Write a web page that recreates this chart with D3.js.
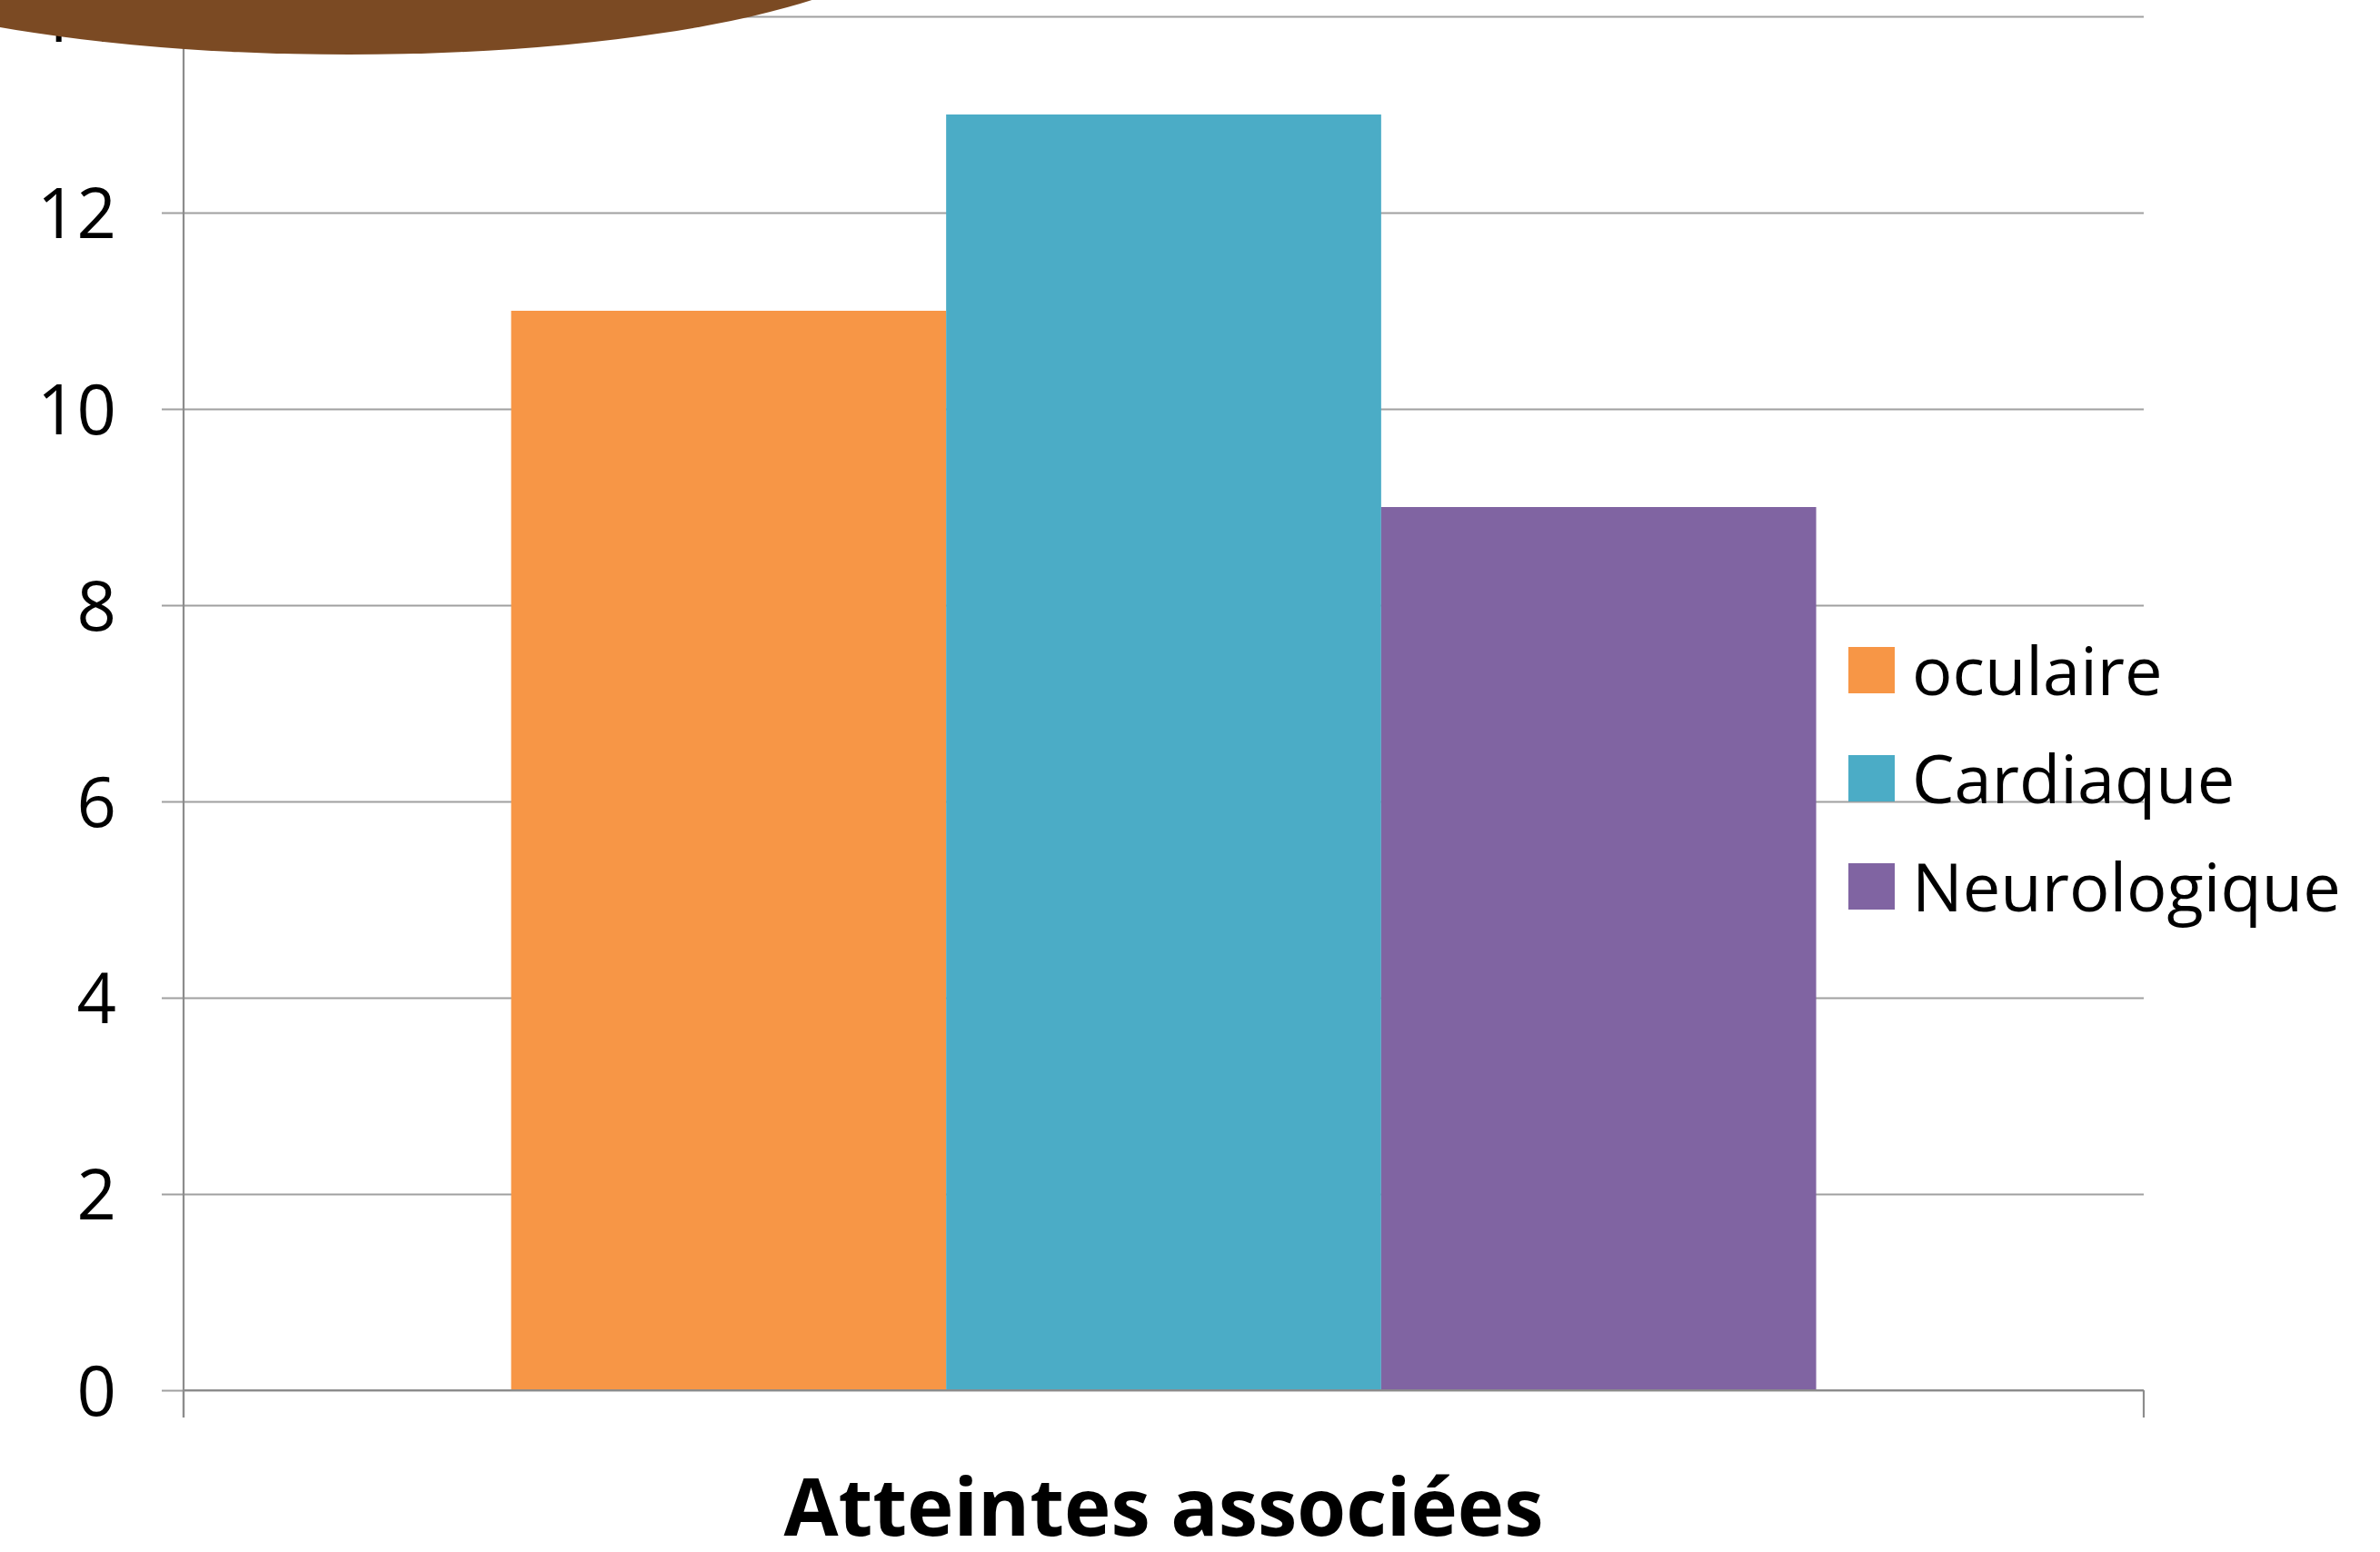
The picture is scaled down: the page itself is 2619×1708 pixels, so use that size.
<!DOCTYPE html>
<html>
<head>
<meta charset="utf-8">
<script src="https://cdn.jsdelivr.net/npm/d3@7"></script>
<style>
  html, body { margin: 0; padding: 0; background: #ffffff; }
  svg { display: block; }
</style>
</head>
<body>
<svg id="chart" width="2619" height="1708"></svg>
<script>
// ---- data ----
const categories = ["Atteintes associées"];
const seriesNames = ["oculaire", "Cardiaque", "Neurologique"];
const seriesValues = [11, 13, 9];
const yTicks = [0, 2, 4, 6, 8, 10, 12, 14];
const seriesColors = ["#F79646", "#4BACC6", "#8064A2"];

// ---- layout ----
const W = 2619, H = 1708;
const margin = { top: 18, right: 260, bottom: 178, left: 202 };
const innerW = W - margin.left - margin.right;
const innerH = H - margin.top - margin.bottom;
const FONT = "'Open Sans', 'Noto Sans', sans-serif";

const svg = d3.select("#chart");
const g = svg.append("g").attr("transform", `translate(${margin.left},${margin.top})`);

const y = d3.scaleLinear().domain([0, 14]).range([innerH, 0]);
const x0 = d3.scaleBand().domain(categories).range([0, innerW]).paddingInner(0).paddingOuter(0.251);
const x1 = d3.scaleBand().domain(seriesNames).range([0, x0.bandwidth()]).padding(0);
const color = d3.scaleOrdinal().domain(seriesNames).range(seriesColors);

// gridlines + y tick marks
const yAxis = d3.axisLeft(y).tickValues(yTicks).tickSize(0).tickPadding(0).tickFormat(d3.format("d"));
const yg = g.append("g").call(yAxis);
yg.select(".domain").remove();
yg.selectAll(".tick").append("line")
  .attr("x1", -24).attr("x2", innerW)
  .attr("stroke", "#a0a0a0").attr("stroke-width", 2.2);
yg.selectAll(".tick text")
  .attr("x", -74).attr("dy", "0.36em")
  .attr("font-family", FONT).attr("font-size", 76).attr("fill", "#000");

// bars
const data = seriesNames.map((s, i) => ({ cat: categories[0], series: s, value: seriesValues[i] }));
g.append("g").selectAll("rect").data(data).join("rect")
  .attr("x", d => x0(d.cat) + x1(d.series))
  .attr("y", d => y(d.value))
  .attr("width", x1.bandwidth())
  .attr("height", d => innerH - y(d.value))
  .attr("fill", d => color(d.series));

// y axis line
g.append("line").attr("x1", 0).attr("x2", 0).attr("y1", 0).attr("y2", innerH + 30)
  .attr("stroke", "#8c8c8c").attr("stroke-width", 2.2);
// x axis line & boundary ticks
g.append("line").attr("x1", 0).attr("x2", innerW).attr("y1", innerH).attr("y2", innerH)
  .attr("stroke", "#8c8c8c").attr("stroke-width", 2.2);
const bounds = [0, innerW];
g.append("g").selectAll("line").data(bounds).join("line")
  .attr("x1", d => d).attr("x2", d => d).attr("y1", innerH).attr("y2", innerH + 30)
  .attr("stroke", "#8c8c8c").attr("stroke-width", 2.2);

// category title
g.append("text")
  .attr("x", x0(categories[0]) + x0.bandwidth() / 2)
  .attr("y", innerH + 160)
  .attr("text-anchor", "middle")
  .attr("font-family", FONT).attr("font-weight", 700).attr("font-size", 87)
  .attr("fill", "#000")
  .text(categories[0]);

// legend
const legend = svg.append("g").attr("transform", "translate(2034,712)");
const items = legend.selectAll("g").data(seriesNames).join("g")
  .attr("transform", (d, i) => `translate(0,${i * 119})`);
items.append("rect").attr("width", 51).attr("height", 51).attr("fill", d => color(d));
items.append("text").attr("x", 70).attr("y", 26).attr("dy", "0.36em")
  .attr("font-family", FONT).attr("font-size", 74).attr("fill", "#000")
  .text(d => d);

// decorative brown oval overlapping top-left
svg.append("ellipse")
  .attr("cx", 384).attr("cy", -82).attr("rx", 624).attr("ry", 142)
  .attr("fill", "#7B4A23");
</script>
</body>
</html>
